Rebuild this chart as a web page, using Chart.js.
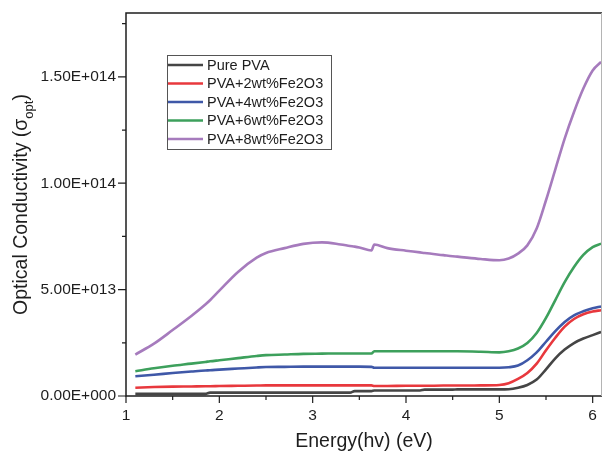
<!DOCTYPE html>
<html lang="en">
<head>
<meta charset="UTF-8">
<title>Optical conductivity of PVA/Fe2O3 films</title>
<script src="https://cdn.jsdelivr.net/npm/chart.js"></script>
<style>
  body { margin: 0; background: #fff; }
  canvas { display: block; }
</style>
</head>
<body>
<canvas id="myChart" width="602" height="456"></canvas>
<script>
// photon energy (eV), shared by every sample
const energy = [1.1, 1.3, 1.5, 1.7, 1.85, 1.9, 2.0, 2.2, 2.4, 2.5, 2.7, 2.9, 3.1, 3.3, 3.4, 3.45, 3.5, 3.63, 3.66, 3.8,
                4.0, 4.15, 4.2, 4.4, 4.5, 4.55, 4.8, 5.0, 5.1, 5.2, 5.3, 5.4, 5.5, 5.6, 5.7, 5.8, 5.9, 6.0, 6.09];

// optical conductivity for each film
const purePVA = [1.0e12, 1.0e12, 1.0e12, 1.0e12, 1.0e12, 1.6e12, 1.6e12, 1.6e12, 1.6e12, 1.6e12, 1.6e12, 1.6e12, 1.6e12, 1.6e12, 1.6e12, 2.3e12, 2.3e12, 2.3e12, 2.6e12, 2.6e12,
                 2.6e12, 2.6e12, 3.0e12, 3.0e12, 3.0e12, 3.1e12, 3.1e12, 3.1e12, 3.2e12, 3.9e12, 5.2e12, 7.7e12, 1.25e13, 1.77e13, 2.18e13, 2.49e13, 2.70e13, 2.86e13, 3.01e13];
const fe2wt = [3.9e12, 4.2e12, 4.4e12, 4.5e12, 4.6e12, 4.6e12, 4.7e12, 4.8e12, 4.9e12, 5.0e12, 5.0e12, 5.0e12, 5.0e12, 5.0e12, 5.0e12, 5.0e12, 5.0e12, 5.0e12, 4.7e12, 4.7e12,
               4.8e12, 4.8e12, 4.8e12, 4.9e12, 4.9e12, 4.9e12, 5.0e12, 5.2e12, 6.0e12, 8.0e12, 1.08e13, 1.52e13, 2.15e13, 2.74e13, 3.26e13, 3.62e13, 3.84e13, 3.97e13, 4.03e13];
const fe4wt = [9.3e12, 1.0e13, 1.08e13, 1.15e13, 1.2e13, 1.21e13, 1.24e13, 1.29e13, 1.34e13, 1.36e13, 1.37e13, 1.38e13, 1.38e13, 1.38e13, 1.38e13, 1.38e13, 1.38e13, 1.37e13, 1.33e13, 1.33e13,
               1.33e13, 1.33e13, 1.33e13, 1.33e13, 1.33e13, 1.33e13, 1.33e13, 1.33e13, 1.35e13, 1.43e13, 1.68e13, 2.05e13, 2.55e13, 3.05e13, 3.48e13, 3.79e13, 3.98e13, 4.12e13, 4.21e13];
const fe6wt = [1.16e13, 1.30e13, 1.42e13, 1.52e13, 1.6e13, 1.63e13, 1.68e13, 1.78e13, 1.88e13, 1.92e13, 1.95e13, 1.98e13, 1.99e13, 2.0e13, 2.0e13, 2.0e13, 2.0e13, 2.0e13, 2.1e13, 2.1e13,
               2.1e13, 2.1e13, 2.1e13, 2.1e13, 2.1e13, 2.1e13, 2.08e13, 2.05e13, 2.10e13, 2.23e13, 2.49e13, 2.96e13, 3.67e13, 4.51e13, 5.35e13, 6.06e13, 6.63e13, 7.00e13, 7.16e13];
const fe8wt = [1.95e13, 2.46e13, 3.10e13, 3.76e13, 4.30e13, 4.50e13, 4.95e13, 5.83e13, 6.50e13, 6.72e13, 6.95e13, 7.15e13, 7.22e13, 7.12e13, 7.05e13, 7.02e13, 6.98e13, 6.84e13, 7.12e13, 6.95e13,
               6.83e13, 6.75e13, 6.72e13, 6.62e13, 6.57e13, 6.55e13, 6.44e13, 6.38e13, 6.46e13, 6.69e13, 7.08e13, 7.87e13, 9.20e13, 1.065e14, 1.210e14, 1.335e14, 1.445e14, 1.530e14, 1.570e14];

const seriesLabels = ['Pure PVA', 'PVA+2wt%Fe2O3', 'PVA+4wt%Fe2O3', 'PVA+6wt%Fe2O3', 'PVA+8wt%Fe2O3'];
const seriesValues = [purePVA, fe2wt, fe4wt, fe6wt, fe8wt];
const seriesColors = ['#454545', '#e8383d', '#3f58a8', '#3da05c', '#a67bbd'];

// axis ticks
const xTickValues = [1, 2, 3, 4, 5, 6];
const xMinorTicks = [1.5, 2.5, 3.5, 4.5, 5.5];
const yTickValues = [0, 5e13, 1e14, 1.5e14];
const yMinorTicks = [2.5e13, 7.5e13, 1.25e14, 1.75e14];

const FONT = "'Liberation Sans', Arial, sans-serif";

// 1.50E+014 style labels
function sciLabel(v) {
    const parts = Number(v).toExponential(2).split('e');
    const sign = parts[1][0];
    return parts[0] + 'E' + sign + parts[1].slice(1).padStart(3, '0');
}

// frame, minor ticks, axis titles and the boxed legend
const decorations = {
    id: 'decorations',
    afterDraw(chart) {
        const { ctx, chartArea: a, scales: { x, y } } = chart;
        ctx.save();

        // frame
        ctx.strokeStyle = '#1e1e1e';
        ctx.lineWidth = 1.5;
        ctx.beginPath();
        ctx.moveTo(a.right, a.top);
        ctx.lineTo(a.left, a.top);
        ctx.lineTo(a.left, a.bottom);
        ctx.lineTo(a.right, a.bottom);
        ctx.stroke();
        ctx.strokeStyle = '#b4b4b4';
        ctx.lineWidth = 1;
        ctx.beginPath();
        ctx.moveTo(a.right - 0.5, a.top);
        ctx.lineTo(a.right - 0.5, a.bottom);
        ctx.stroke();

        // tick marks, outward
        ctx.strokeStyle = '#1e1e1e';
        ctx.lineWidth = 1.2;
        ctx.beginPath();
        yTickValues.forEach(v => { const p = y.getPixelForValue(v); ctx.moveTo(a.left - 8, p); ctx.lineTo(a.left, p); });
        yMinorTicks.forEach(v => { const p = y.getPixelForValue(v); ctx.moveTo(a.left - 4, p); ctx.lineTo(a.left, p); });
        xTickValues.forEach(v => { const p = x.getPixelForValue(v); ctx.moveTo(p, a.bottom); ctx.lineTo(p, a.bottom + 7); });
        xMinorTicks.forEach(v => { const p = x.getPixelForValue(v); ctx.moveTo(p, a.bottom); ctx.lineTo(p, a.bottom + 4); });
        ctx.stroke();

        // x title
        ctx.fillStyle = '#1e1e1e';
        ctx.font = '19.5px ' + FONT;
        ctx.textAlign = 'center';
        ctx.textBaseline = 'alphabetic';
        ctx.fillText('Energy(hv) (eV)', (a.left + a.right) / 2, 447);

        // y title with subscript
        const main = 'Optical Conductivity (\u03c3';
        const sub = 'opt';
        const close = ')';
        ctx.font = '19.5px ' + FONT;
        const wMain = ctx.measureText(main).width;
        const wClose = ctx.measureText(close).width;
        ctx.font = '13px ' + FONT;
        const wSub = ctx.measureText(sub).width;
        const total = wMain + wSub + wClose;
        ctx.translate(26.5, (a.top + a.bottom) / 2);
        ctx.rotate(-Math.PI / 2);
        ctx.textAlign = 'left';
        let cx = -total / 2;
        ctx.font = '19.5px ' + FONT;
        ctx.fillText(main, cx, 0);
        cx += wMain;
        ctx.font = '13px ' + FONT;
        ctx.fillText(sub, cx, 6.5);
        cx += wSub;
        ctx.font = '19.5px ' + FONT;
        ctx.fillText(close, cx, 0);
        ctx.setTransform(1, 0, 0, 1, 0, 0);

        // legend
        ctx.strokeStyle = '#555';
        ctx.lineWidth = 1;
        ctx.strokeRect(167.5, 55.5, 164, 94);
        ctx.font = '14.5px ' + FONT;
        ctx.textBaseline = 'middle';
        ctx.textAlign = 'left';
        chart.data.datasets.forEach((ds, i) => {
            const ly = 65 + i * 18.5;
            ctx.strokeStyle = ds.borderColor;
            ctx.lineWidth = 2.5;
            ctx.beginPath();
            ctx.moveTo(168, ly);
            ctx.lineTo(203, ly);
            ctx.stroke();
            ctx.fillStyle = '#1e1e1e';
            ctx.fillText(ds.label, 207, ly + 0.5);
        });
        ctx.restore();
    }
};

const ctx = document.getElementById('myChart').getContext('2d');
const myChart = new Chart(ctx, {
    type: 'line',
    data: {
        datasets: seriesLabels.map((label, i) => ({
            label: label,
            data: energy.map((e, j) => ({ x: e, y: seriesValues[i][j] })),
            borderColor: seriesColors[i],
            borderWidth: 2.6,
            pointRadius: 0,
            fill: false,
            cubicInterpolationMode: 'monotone'
        }))
    },
    options: {
        responsive: false,
        animation: false,
        devicePixelRatio: 1,
        layout: { padding: { top: 13, right: 0, left: 0, bottom: 0 } },
        plugins: {
            legend: { display: false },
            tooltip: { enabled: false }
        },
        scales: {
            x: {
                type: 'linear',
                min: 1,
                max: 6.1,
                afterBuildTicks: s => { s.ticks = xTickValues.map(v => ({ value: v })); },
                afterFit: s => { s.height = 60; },
                grid: { display: false, drawTicks: true, tickLength: 7 },
                border: { display: false },
                ticks: {
                    color: '#1e1e1e',
                    padding: 3,
                    maxRotation: 0,
                    autoSkip: false,
                    font: { family: FONT, size: 15.5 }
                }
            },
            y: {
                min: 0,
                max: 1.8e14,
                afterBuildTicks: s => { s.ticks = yTickValues.map(v => ({ value: v })); },
                afterFit: s => { s.width = 126; },
                grid: { display: false, drawTicks: true, tickLength: 8 },
                border: { display: false },
                ticks: {
                    color: '#1e1e1e',
                    padding: 2,
                    font: { family: FONT, size: 15.5 },
                    callback: v => sciLabel(v)
                }
            }
        }
    },
    plugins: [decorations]
});
</script>
</body>
</html>
